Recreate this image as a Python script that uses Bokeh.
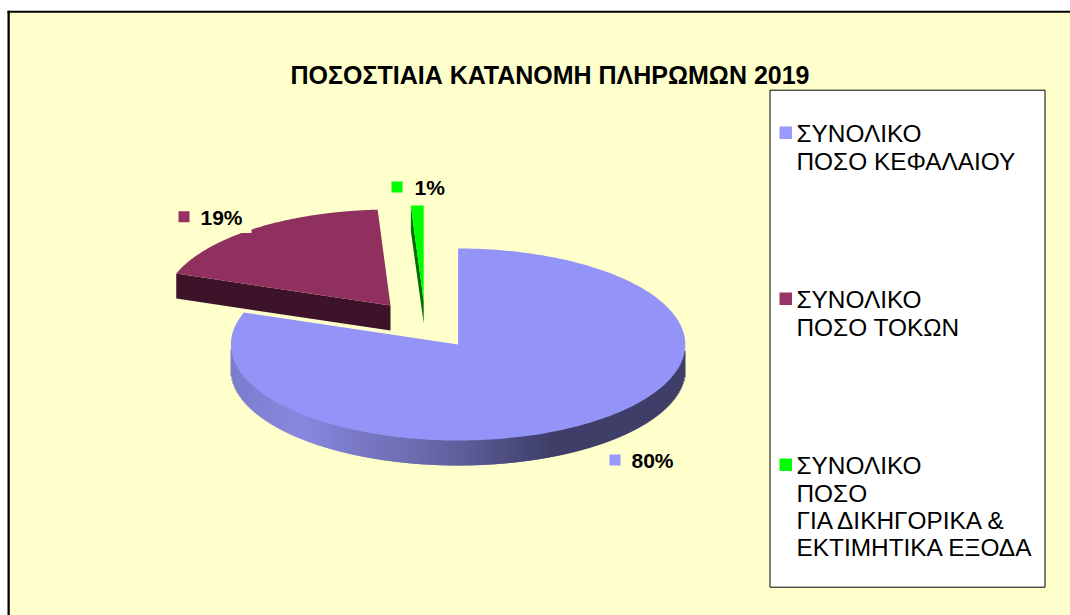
import numpy as np
from bokeh.plotting import figure
from bokeh.models import Range1d
from bokeh.core.properties import value
from bokeh.embed import file_html
from bokeh.resources import INLINE

# ---- data ----
title = "ΠΟΣΟΣΤΙΑΙΑ ΚΑΤΑΝΟΜΗ ΠΛΗΡΩΜΩΝ 2019"
shares = [80.4, 18.7, 0.9]
pct_labels = ["80%", "19%", "1%"]
legend_lines = [
    ["ΣΥΝΟΛΙΚΟ", "ΠΟΣΟ ΚΕΦΑΛΑΙΟΥ"],
    ["ΣΥΝΟΛΙΚΟ", "ΠΟΣΟ ΤΟΚΩΝ"],
    ["ΣΥΝΟΛΙΚΟ", "ΠΟΣΟ", "ΓΙΑ ΔΙΚΗΓΟΡΙΚΑ &", "ΕΚΤΙΜΗΤΙΚΑ ΕΞΟΔΑ"],
]

# ---- styles / layout ----
CREAM = "#FFFFCC"
FONT = value("Liberation Sans")
key_colors = ["#9999FF", "#993366", "#00FF00"]
top_colors = ["#9494F8", "#90305F", "#00FF00"]
wall_colors = [None, "#3D1329", "#006E00"]
apexes = [(457.6, 344.0), (390.0, 305.0), (423.2, 301.0)]
RX, RY, DEPTH = 227.2, 96.0, 25.0
W, H = 1070, 615

p = figure(width=W, height=H, x_range=Range1d(0, W), y_range=Range1d(H, 0),
           toolbar_location=None, output_backend="svg", min_border=0,
           outline_line_color=None, background_fill_color="white", border_fill_color="white")
p.axis.visible = False
p.grid.visible = False

# chart area and its heavy top/left edge
p.quad(left=[9.3], right=[W], top=[12.3], bottom=[H], fill_color=CREAM, line_color=None)
p.quad(left=[7], right=[W], top=[10.3], bottom=[12.3], fill_color="black", line_color=None)
p.quad(left=[7], right=[9.3], top=[10.3], bottom=[H], fill_color="black", line_color=None)

p.text(x=[549.5], y=[74], text=[title], text_font=FONT, text_font_size="25px", text_font_style="bold",
       text_align="center", text_baseline="middle", text_color="black")


def rim(apex, a0, a1, n=240):
    t = np.radians(np.linspace(a0, a1, n))
    return apex[0] + RX * np.sin(t), apex[1] - RY * np.cos(t)


def side_color(x):
    xs = [230, 300, 400, 460, 553, 690]
    r = np.interp(x, xs, [125, 136, 112, 95, 62, 62])
    b = np.interp(x, xs, [205, 224, 182, 156, 104, 104])
    return "#%02x%02x%02x" % (int(r), int(r), int(b))


edges = np.cumsum([0] + shares) * 3.6

# slice 0: curved outer wall, drawn as narrow columns to carry its shading
a = apexes[0]
col_x = np.arange(np.ceil(a[0] - RX), np.floor(a[0] + RX) + 1)
col_y = a[1] + RY * np.sqrt(1 - ((col_x - a[0]) / RX) ** 2)
p.segment(x0=col_x, y0=col_y - 2, x1=col_x, y1=col_y + DEPTH,
          line_color=[side_color(x) for x in col_x], line_width=2, line_cap="butt")
rx, ry = rim(a, edges[0], edges[1])
p.patch(np.r_[a[0], rx], np.r_[a[1], ry], fill_color=top_colors[0], line_color=None)

# slice 1: exploded, straight wall along its lower cut
a = apexes[1]
rx, ry = rim(a, edges[1], edges[2])
p.patch([rx[0], a[0], a[0], rx[0]], [ry[0], a[1], a[1] + DEPTH, ry[0] + DEPTH],
        fill_color=wall_colors[1], line_color=None)
p.patch(np.r_[a[0], rx], np.r_[a[1], ry], fill_color=top_colors[1], line_color=None)

# slice 2: exploded sliver, its left cut wall is visible
a = apexes[2]
rx, ry = rim(a, edges[2], edges[3], 20)
p.patch([rx[0], a[0], a[0], rx[0]], [ry[0], a[1], a[1] + DEPTH - 3, ry[0] + DEPTH],
        fill_color=wall_colors[2], line_color=None)
p.patch(np.r_[a[0], rx], np.r_[a[1], ry], fill_color=top_colors[2], line_color=None)

# data labels: key square plus bold percentage
label_keys = [(609, 454), (178, 210.7), (391, 181)]
label_text_x = [631, 200, 414]
label_text_y = [460, 217, 187]
# the 19% label's cream box bites a small notch out of the slice
p.quad(left=[172], right=[251], top=[207], bottom=[232.6], fill_color=CREAM, line_color=None)
for (kx, ky), col in zip(label_keys, key_colors):
    p.quad(left=[kx], right=[kx + 11], top=[ky], bottom=[ky + 11], fill_color=col, line_color=None)
p.text(x=label_text_x, y=label_text_y, text=pct_labels, text_font=FONT, text_font_size="21px",
       text_font_style="bold", text_align="left", text_baseline="middle", text_color="black")

# legend box
p.quad(left=[769.5], right=[1044.5], top=[89.7], bottom=[586.7], fill_color="white", line_color="black",
       line_width=1)
key_tops = [126, 292, 458]
line_ys = [[132.5, 160.5], [298.5, 326.5], [464.5, 492.5, 519.5, 546.5]]
for top, col, lines, ys in zip(key_tops, key_colors, legend_lines, line_ys):
    p.quad(left=[779], right=[791.5], top=[top], bottom=[top + 12.5], fill_color=col, line_color=None)
    p.text(x=[796] * len(lines), y=ys, text=lines, text_font=FONT, text_font_size="24.4px",
           text_align="left", text_baseline="middle", text_color="black")

open("out.html", "w").write(file_html(p, INLINE))
